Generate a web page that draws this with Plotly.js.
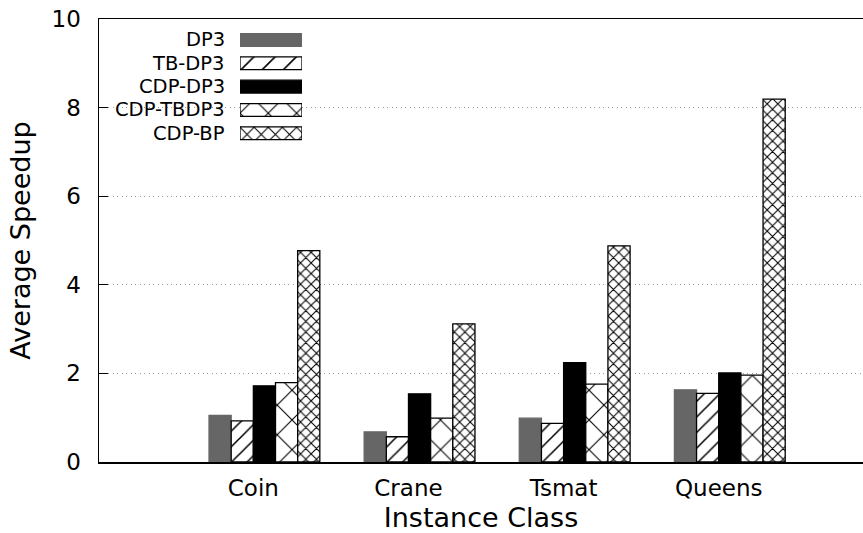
<!DOCTYPE html>
<html>
<head>
<meta charset="utf-8">
<script src="https://cdn.plot.ly/plotly-3.0.1.min.js"></script>
<style>
  html, body { margin: 0; padding: 0; background: #fff; }
  #chart { width: 863px; height: 533px; }
</style>
</head>
<body>
<div id="chart"></div>
<script>
// Instance classes on the x axis
const categories = ["Coin", "Crane", "Tsmat", "Queens"];

// Solver variants, in cluster order
const seriesNames = ["DP3", "TB-DP3", "CDP-DP3", "CDP-TBDP3", "CDP-BP"];

// Average speedup per instance class, one array per variant
const dp3       = [1.05, 0.68, 0.99, 1.63];
const tbDp3     = [0.93, 0.57, 0.87, 1.55];
const cdpDp3    = [1.72, 1.54, 2.24, 2.01];
const cdpTbDp3  = [1.79, 0.99, 1.76, 1.96];
const cdpBp     = [4.77, 3.12, 4.88, 8.19];

const seriesValues = [dp3, tbDp3, cdpDp3, cdpTbDp3, cdpBp];

// y axis ticks
const yTickValues = [0, 2, 4, 6, 8, 10];

// Fill styles: solid gray, hatched, solid black, wide cross-hatch, fine cross-hatch.
// keySize is the tile size used for the small samples in the key.
const styles = [
  { color: "#666666", line: "#666666", pattern: null },
  { color: "#ffffff", line: "#000000", pattern: { shape: "/", size: 11, keySize: 15, solidity: 0.14 } },
  { color: "#000000", line: "#000000", pattern: null },
  { color: "#ffffff", line: "#000000", pattern: { shape: "x", size: 21, keySize: 20, solidity: 0.1 } },
  { color: "#ffffff", line: "#000000", pattern: { shape: "x", size: 7.5, keySize: 10, solidity: 0.26 } }
];

function markerFor(s, forKey) {
  const m = { color: s.color, line: { color: s.line, width: 1.3 } };
  if (s.pattern) {
    const size = forKey ? s.pattern.keySize : s.pattern.size;
    m.pattern = {
      shape: s.pattern.shape,
      size: size,
      solidity: s.pattern.solidity * s.pattern.size / size,
      fgcolor: "#000000",
      bgcolor: "#ffffff",
      fillmode: "replace"
    };
  }
  return m;
}

const nSeries = seriesNames.length;
const slot = 1 / (nSeries + 2);   // five bars plus a two-bar gap per cluster
const xIdx = categories.map((_, i) => i);

const traces = [];
seriesNames.forEach((name, j) => {
  traces.push({
    type: "bar",
    name: name,
    x: xIdx,
    y: seriesValues[j],
    width: slot,
    offset: (j - 2) * slot,
    marker: markerFor(styles[j], false),
    showlegend: false,
    hoverinfo: "x+y+name"
  });
});

// Key samples: short horizontal bars on a small inset axis pair
seriesNames.forEach((name, j) => {
  traces.push({
    type: "bar",
    orientation: "h",
    x: [1],
    y: [j],
    base: 0,
    width: 0.55,
    marker: markerFor(styles[j], true),
    xaxis: "x2",
    yaxis: "y2",
    showlegend: false,
    hoverinfo: "skip"
  });
});

const W = 863, H = 533;
const L = 99, R = 0, T = 19, B = 71;
const plotW = W - L - R, plotH = H - T - B;
const px = (x) => (x - L) / plotW;
const py = (y) => (H - B - y) / plotH;

const font = { family: "DejaVu Sans, sans-serif", color: "#000000" };

// Key rows
const rowTop = 28.3, rowH = 23.33;
const annotations = seriesNames.map((name, j) => ({
  xref: "paper", yref: "paper",
  x: px(227), y: py(rowTop + rowH * (j + 0.5)),
  xanchor: "right", yanchor: "middle",
  text: name, showarrow: false,
  font: { family: font.family, color: "#000000", size: 19.5 }
}));

const layout = {
  width: W, height: H,
  margin: { l: L, r: R, t: T, b: B, pad: 0 },
  paper_bgcolor: "#ffffff",
  plot_bgcolor: "#ffffff",
  font: font,
  showlegend: false,
  barmode: "overlay",
  xaxis: {
    range: [-0.995, 3.93],
    tickvals: xIdx,
    ticktext: categories,
    ticks: "",
    showgrid: false,
    zeroline: false,
    showline: true,
    mirror: true,
    linecolor: "#000000",
    linewidth: 1.5,
    tickfont: { family: font.family, size: 23, color: "#000000" },
    ticklabelstandoff: 5,
    title: { text: "Instance Class", font: { family: font.family, size: 27, color: "#000000" }, standoff: 10 }
  },
  yaxis: {
    range: [0, 10],
    tickvals: yTickValues,
    ticks: "inside",
    ticklen: 9,
    tickwidth: 1.2,
    tickcolor: "#000000",
    showgrid: true,
    gridcolor: "#9a9a9a",
    gridwidth: 1,
    griddash: "1px,3.5px",
    zeroline: false,
    showline: true,
    mirror: false,
    linecolor: "#000000",
    linewidth: 1.5,
    tickfont: { family: font.family, size: 23, color: "#000000" },
    ticklabelstandoff: 12,
    title: { text: "Average Speedup", font: { family: font.family, size: 27, color: "#000000" }, standoff: 13 }
  },
  xaxis2: {
    domain: [px(240), px(302)],
    anchor: "y2",
    range: [0, 1],
    visible: false,
    fixedrange: true
  },
  yaxis2: {
    domain: [py(rowTop + rowH * nSeries), py(rowTop)],
    anchor: "x2",
    range: [nSeries - 0.5, -0.5],
    visible: false,
    fixedrange: true
  },
  shapes: [
    // opaque key background over the grid
    {
      type: "rect", layer: "between",
      xref: "paper", yref: "paper",
      x0: 0.002, x1: px(312), y0: py(146), y1: 0.997,
      fillcolor: "#ffffff", line: { width: 0 }
    }
  ],
  annotations: annotations
};

Plotly.newPlot("chart", traces, layout, { displayModeBar: false, staticPlot: true });
</script>
</body>
</html>
